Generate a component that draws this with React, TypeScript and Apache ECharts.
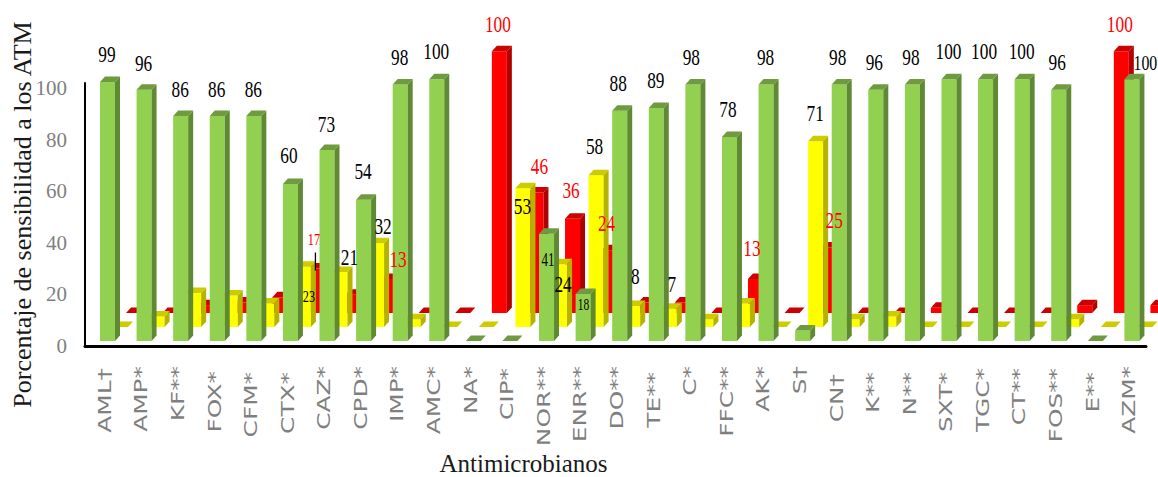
import React, { useEffect, useRef } from "react";
import * as echarts from "echarts";

const categories = ["AML†","AMP*","KF**","FOX*","CFM*","CTX*","CAZ*","CPD*","IMP*","AMC*","NA*","CIP*","NOR**","ENR**","DO**","TE**","C*","FFC**","AK*","S†","CN†","K**","N**","SXT*","TGC*","CT**","FOS**","E**","AZM*"];
const sensitive = [99,96,86,86,86,60,73,54,98,100,0,0,41,18,88,89,98,78,98,4,98,96,98,100,100,100,96,0,100];
const intermediate = [0,4,13,12,9,23,21,32,3,0,0,53,24,58,8,7,3,9,0,71,3,4,0,0,0,0,3,0,0];
const resistant = [0,0,3,4,6,17,7,13,0,0,100,46,36,24,4,4,0,13,0,25,0,0,2,0,0,0,3,100,3];
const yTicks = { min: 0, max: 102, interval: 20 };

// Category names that hang a little lower than the rest: index -> extra px.
const categoryDrops: Record<number, number> = { 0: 2, 3: 5, 4: 6, 5: 6, 11: 2, 15: 6, 20: 8, 21: 6, 22: 6, 23: 6, 24: 2, 25: 2, 26: 2, 27: 6 };

// Value labels: category index -> [dx, dy, fontSize] from the bar's top-left front corner.
type Nudge = [number, number, number];
const sensitiveLabels: Record<number, Nudge> = {
  0:[7,-28,24],1:[7,-27,24],2:[7,-27,24],3:[7,-27,24],4:[7,-27,24],5:[6,-29,24],6:[7,-26,24],7:[7,-29,24],
  8:[7,-28,24],9:[7,-28,24],12:[9,26,18],13:[8,11,16],14:[6,-28,24],15:[7,-28,24],16:[6,-28,24],17:[6,-28,24],
  18:[7,-28,24],20:[6,-28,24],21:[6,-28,24],22:[6,-28,24],23:[7,-28,24],24:[6,-28,24],25:[7,-28,24],26:[6,-28,24],
  28:[21,-17,22],
};
const intermediateLabels: Record<number, Nudge> = {
  5:[13,29,17],6:[17,-15,24],7:[14,-17,24],11:[7,18,24],12:[11,20,24],13:[6,-29,24],14:[10,-30,24],15:[10,-25,24],19:[7,-28,24],
};
const resistantLabels: Record<number, Nudge> = {
  5:[5,-29,17],7:[16,-20,24],10:[6,-27,24],11:[11,-27,24],12:[6,-29,24],13:[5,-27,24],17:[4,-31,24],19:[13,-28,24],27:[6,-27,24],
};

// Fake-3D box proportions, in pixels.
const BAR_W = 15;
const BOX_DX = 5;
const BOX_DY = 5.5;
const BAR_SHIFT = -3.3;
const ROW_DX = 13;
const ROW_DY = 14;
const SERIF = "'Liberation Serif', 'DejaVu Serif', serif";

const barSeries = (name: string, values: number[], row: number, front: string, side: string, top: string) => ({
  name,
  type: "custom",
  coordinateSystem: "cartesian2d",
  yAxisIndex: 1,
  silent: true,
  clip: false,
  z: 2 + (2 - row),
  data: values.map((v, i) => [i, v]),
  renderItem: (_: any, api: any) => {
    const [cx, vy] = api.coord([api.value(0), api.value(1)]);
    const [, by] = api.coord([api.value(0), 0]);
    const x = cx + BAR_SHIFT + row * ROW_DX;
    const y = vy - row * ROW_DY;
    const base = by - row * ROW_DY;
    const r = x + BAR_W;
    return {
      type: "group",
      children: [
        { type: "rect", shape: { x, y, width: BAR_W, height: base - y }, style: { fill: front } },
        { type: "polygon", shape: { points: [[r, y], [r + BOX_DX, y - BOX_DY], [r + BOX_DX, base - BOX_DY], [r, base]] }, style: { fill: side } },
        { type: "polygon", shape: { points: [[x, y], [x + BOX_DX, y - BOX_DY], [r + BOX_DX, y - BOX_DY], [r, y]] }, style: { fill: top } },
      ],
    };
  },
});

const labelSeries = (name: string, values: number[], row: number, nudges: Record<number, Nudge>, fill: string) => ({
  name,
  type: "custom",
  coordinateSystem: "cartesian2d",
  yAxisIndex: 1,
  silent: true,
  clip: false,
  z: 10,
  data: Object.keys(nudges).map((k) => [Number(k), values[Number(k)]]),
  renderItem: (_: any, api: any) => {
    const i = api.value(0);
    const v = api.value(1);
    const [cx, vy] = api.coord([i, v]);
    const [dx, dy, size] = nudges[i];
    return {
      type: "text",
      x: cx + BAR_SHIFT + row * ROW_DX + dx,
      y: vy - row * ROW_DY + dy,
      scaleX: 0.72,
      style: { text: String(v), fill, fontFamily: SERIF, fontSize: size, align: "center", verticalAlign: "middle" },
    };
  },
});

// Category names, stretched along their reading direction and hung below the axis line.
const categorySeries = {
  name: "Antimicrobianos",
  type: "custom",
  coordinateSystem: "cartesian2d",
  yAxisIndex: 1,
  silent: true,
  clip: false,
  z: 10,
  data: categories.map((_, i) => [i, 0]),
  renderItem: (_: any, api: any) => {
    const i = api.value(0);
    const [cx, y0] = api.coord([i, 0]);
    return {
      type: "text",
      x: cx + 1.5,
      y: y0 + 25 + (categoryDrops[i] || 0),
      rotation: Math.PI / 2,
      scaleX: 1.46,
      style: { text: categories[i], fill: "#7f7f7f", fontFamily: "'DejaVu Sans', sans-serif", fontSize: 17, align: "right", verticalAlign: "middle" },
    };
  },
};

// Short leader tying the "17" label of CTX* to its bar.
const leaderSeries = {
  type: "custom",
  coordinateSystem: "cartesian2d",
  yAxisIndex: 1,
  silent: true,
  clip: false,
  z: 11,
  data: [[5, resistant[5]]],
  renderItem: (_: any, api: any) => {
    const [cx, vy] = api.coord([api.value(0), api.value(1)]);
    const x = cx + BAR_SHIFT + 2 * ROW_DX + 6.5;
    const y = vy - 2 * ROW_DY;
    return { type: "line", shape: { x1: x, y1: y - 16, x2: x, y2: y + 2 }, style: { stroke: "#000", lineWidth: 1.3 } };
  },
};

export default function App() {
  const ref = useRef<HTMLDivElement>(null);
  useEffect(() => {
    if (!ref.current) return;
    const chart = echarts.init(ref.current, undefined, { renderer: "svg" });
    chart.setOption({
      animation: false,
      backgroundColor: "#fff",
      grid: { left: 85, right: 12, top: 83, bottom: 131, containLabel: false, outerBoundsMode: "none" },
      xAxis: {
        type: "category",
        data: categories,
        name: "Antimicrobianos",
        nameLocation: "middle",
        nameMoveOverlap: false,
        nameGap: 105,
        nameTextStyle: { fontFamily: SERIF, fontSize: 25, color: "#1a1a1a", padding: [0, 184, 0, 0] },
        axisLine: { lineStyle: { color: "#000", width: 3 } },
        axisTick: { show: false },
        axisLabel: { show: false },
      },
      yAxis: [
        {
          type: "value",
          min: yTicks.min,
          max: yTicks.max,
          interval: yTicks.interval,
          name: "Porcentaje de sensibilidad a los ATM",
          nameLocation: "middle",
          nameMoveOverlap: false,
          nameGap: 50,
          nameRotate: 90,
          nameTextStyle: { fontFamily: SERIF, fontSize: 26, color: "#1a1a1a" },
          axisLine: { show: true, lineStyle: { color: "#000", width: 2 } },
          axisTick: { show: false },
          splitLine: { show: false },
          axisLabel: { showMaxLabel: false, margin: 18, fontFamily: SERIF, fontSize: 21, color: "#7f7f7f" },
        },
        // Drives the boxes: the fake-3D front plane sits a little above the axis line.
        { type: "value", show: false, min: -1.91, max: 98.59, splitLine: { show: false } },
      ],
      series: [
        barSeries("Resistente", resistant, 2, "#ff0000", "#b00000", "#cc0000"),
        barSeries("Intermedio", intermediate, 1, "#ffff00", "#b3b300", "#cccc00"),
        barSeries("Sensible", sensitive, 0, "#92d050", "#5f8a33", "#6f9a3f"),
        labelSeries("Etiquetas resistente", resistant, 2, resistantLabels, "#ff0000"),
        labelSeries("Etiquetas intermedio", intermediate, 1, intermediateLabels, "#000"),
        labelSeries("Etiquetas sensible", sensitive, 0, sensitiveLabels, "#000"),
        categorySeries,
        leaderSeries,
      ],
    });
    return () => chart.dispose();
  }, []);
  return <div ref={ref} style={{ position: "absolute", left: 0, top: 0, width: 1158, height: 477 }} />;
}
